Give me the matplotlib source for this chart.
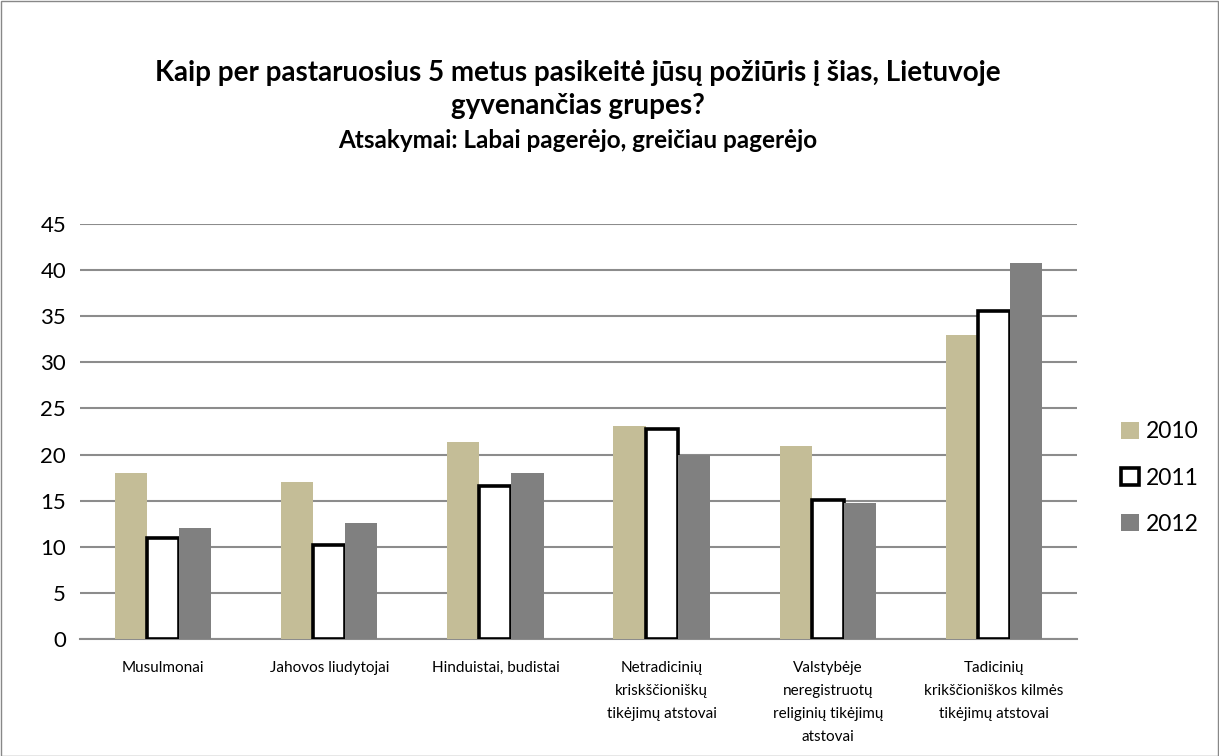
import matplotlib
matplotlib.use("Agg")
import matplotlib.pyplot as plt
from matplotlib.patches import Rectangle
import numpy as np

categories = ["Musulmonai", "Jahovos liudytojai", "Hinduistai, budistai",
              "Netradicinių\nkriskščioniškų\ntikėjimų atstovai",
              "Valstybėje\nneregistruotų\nreliginių tikėjimų\natstovai",
              "Tadicinių\nkrikščioniškos kilmės\ntikėjimų atstovai"]
v2010 = [18.0, 17.0, 21.4, 23.1, 20.9, 33.0]
v2011 = [11.0, 10.2, 16.6, 22.8, 15.1, 35.6]
v2012 = [12.0, 12.6, 18.0, 20.0, 14.8, 40.8]
series_labels = ["2010", "2011", "2012"]
yticks = list(range(0, 46, 5))

plt.rcParams['font.family'] = ['Lato', 'DejaVu Sans']

W, H = 1219, 756
fig = plt.figure(figsize=(W/100, H/100), dpi=100)
fig.patches.append(Rectangle((0.5/W, 0.5/H), 1-1.5/W, 1-1.5/H, transform=fig.transFigure,
                             fill=False, edgecolor="#888888", linewidth=1.0))

left, right, top, bottom = 80, 1077, 224, 639
ax = fig.add_axes([left/W, 1-bottom/H, (right-left)/W, (bottom-top)/H])

x = np.arange(len(categories))
bw = 0.193
ax.bar(x - bw, v2010, bw, color="#C4BD97", label=series_labels[0], zorder=3)
ax.bar(x, v2011, bw, color="white", edgecolor="black", linewidth=2.6,
       label=series_labels[1], zorder=3)
ax.bar(x + bw, v2012, bw, color="#808080", label=series_labels[2], zorder=3)

ax.set_xlim(-0.5, len(categories) - 0.5)
ax.set_ylim(0, 45)
ax.set_yticks(yticks)
ax.yaxis.grid(True, color="#8c8c8c", linewidth=1.5, zorder=0)
ax.set_axisbelow(True)
for s in ["left", "right", "top"]:
    ax.spines[s].set_visible(False)
ax.spines["bottom"].set_color("#8c8c8c")
ax.spines["bottom"].set_linewidth(1.5)
ax.tick_params(axis="y", length=0, labelsize=16, pad=10)
ax.tick_params(axis="x", length=0, labelsize=11, pad=16)
ax.set_xticks(x)
ax.set_xticklabels(categories, linespacing=1.8)

cx = 0.474
fig.text(cx, 1-73/H, "Kaip per pastaruosius 5 metus pasikeitė jūsų požiūris į šias, Lietuvoje",
         ha="center", va="center", fontsize=20, fontweight="bold")
fig.text(cx, 1-106/H, "gyvenančias grupes?", ha="center", va="center",
         fontsize=20, fontweight="bold")
fig.text(cx, 1-140/H, "Atsakymai: Labai pagerėjo, greičiau pagerėjo", ha="center",
         va="center", fontsize=17.5, fontweight="bold")

leg = fig.legend(*ax.get_legend_handles_labels(), loc="center left",
                 bbox_to_anchor=(1110/W, 1-478/H), frameon=False,
                 fontsize=16.5, handlelength=0.75, handleheight=0.75, handletextpad=0.3,
                 labelspacing=1.1, borderpad=0)

fig.savefig("out.png", dpi=100)
